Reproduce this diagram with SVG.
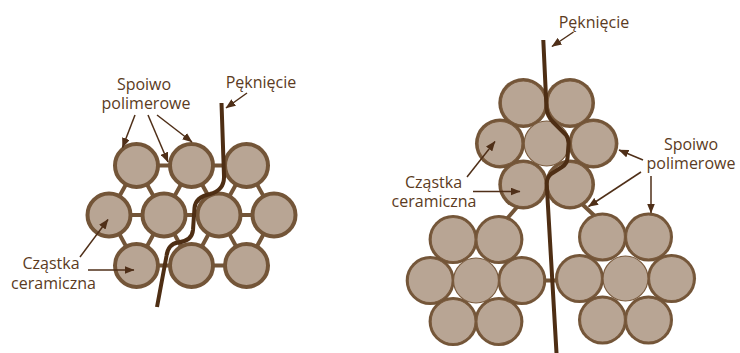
<svg xmlns="http://www.w3.org/2000/svg" width="740" height="353" viewBox="0 0 740 353">
  <defs>
    <marker id="head" markerUnits="userSpaceOnUse" markerWidth="10" markerHeight="8" refX="9.5" refY="4" orient="auto">
      <path d="M0,0 L10,4 L0,8 z" fill="#4f2f18"/>
    </marker>
    <style>
      .lbl { font-family: "Open Sans", "Liberation Sans", sans-serif; font-size: 16px; fill: #5b3b22; text-anchor: middle; }
      .bead { fill: #b8a594; stroke: #735538; stroke-width: 4; }
      .bar { stroke: #735538; stroke-width: 4; fill: none; }
      .ring { fill: #735538; }
      .grain { fill: #b8a594; stroke: #7a5b3e; stroke-width: 1.2; }
      .crack { fill: none; stroke: #4e2e14; stroke-width: 4; stroke-linejoin: round; stroke-linecap: butt; }
      .ptr { stroke: #4f2f18; stroke-width: 1.5; fill: none; marker-end: url(#head); }
    </style>
  </defs>

  <rect width="740" height="353" fill="#ffffff"/>

  <!-- Left: ceramic particles linked by polymer binder bridges -->
  <g id="left-bridges">
    <path class="bar" d="M136.5,165.5 H246.5 M109,215 H274 M136.5,265.5 H246.5
      M136.5,165.5 L109,215 M136.5,165.5 L164,215 M191.5,165.5 L164,215 M191.5,165.5 L219,215 M246.5,165.5 L219,215 M246.5,165.5 L274,215
      M136.5,265.5 L109,215 M136.5,265.5 L164,215 M191.5,265.5 L164,215 M191.5,265.5 L219,215 M246.5,265.5 L219,215 M246.5,265.5 L274,215"/>
  </g>
  <g id="left-particles">
    <circle class="bead" cx="136.5" cy="165.5" r="21.5"/>
    <circle class="bead" cx="191.5" cy="165.5" r="21.5"/>
    <circle class="bead" cx="246.5" cy="165.5" r="21.5"/>
    <circle class="bead" cx="109" cy="215" r="21.5"/>
    <circle class="bead" cx="164" cy="215" r="21.5"/>
    <circle class="bead" cx="219" cy="215" r="21.5"/>
    <circle class="bead" cx="274" cy="215" r="21.5"/>
    <circle class="bead" cx="136.5" cy="265.5" r="21.5"/>
    <circle class="bead" cx="191.5" cy="265.5" r="21.5"/>
    <circle class="bead" cx="246.5" cy="265.5" r="21.5"/>
  </g>
  <g id="left-crack">
    <path class="crack" stroke-width="3.5" d="M221.5,103 L224,176 Q224.5,190 210,194 Q195.5,197 194.5,208 L193,230 Q192,241 178,242.5 Q168,244 166.5,256 L157,307"/>
  </g>

  <!-- Right: sintered clusters joined by thin binder bridges -->
  <g id="right-bridges">
    <path class="bar" d="M518,206 L505,221 M582,204 L598,219 M538,280.5 H562"/>
  </g>
  <g id="cluster-top">
    <circle class="ring" cx="523.3" cy="103" r="25"/>
    <circle class="ring" cx="570" cy="103" r="25"/>
    <circle class="ring" cx="500" cy="143.5" r="25"/>
    <circle class="ring" cx="593.4" cy="143.5" r="25"/>
    <circle class="ring" cx="523.3" cy="184.5" r="25"/>
    <circle class="ring" cx="570" cy="184.5" r="25"/>
    <circle class="grain" cx="523.3" cy="103" r="22"/>
    <circle class="grain" cx="570" cy="103" r="22"/>
    <circle class="grain" cx="500" cy="143.5" r="22"/>
    <circle class="grain" cx="546.7" cy="143.5" r="22.5"/>
    <circle class="grain" cx="593.4" cy="143.5" r="22"/>
    <circle class="grain" cx="523.3" cy="184.5" r="22"/>
    <circle class="grain" cx="570" cy="184.5" r="22"/>
  </g>
  <g id="cluster-lower-left">
    <circle class="ring" cx="453.1" cy="239.5" r="24.5"/>
    <circle class="ring" cx="498.9" cy="239.5" r="24.5"/>
    <circle class="ring" cx="430.2" cy="280.5" r="24.5"/>
    <circle class="ring" cx="521.8" cy="280.5" r="24.5"/>
    <circle class="ring" cx="453.1" cy="321.5" r="24.5"/>
    <circle class="ring" cx="498.9" cy="321.5" r="24.5"/>
    <circle class="grain" cx="453.1" cy="239.5" r="22"/>
    <circle class="grain" cx="498.9" cy="239.5" r="22"/>
    <circle class="grain" cx="430.2" cy="280.5" r="22"/>
    <circle class="grain" cx="476" cy="280.5" r="22.5"/>
    <circle class="grain" cx="521.8" cy="280.5" r="22"/>
    <circle class="grain" cx="453.1" cy="321.5" r="22"/>
    <circle class="grain" cx="498.9" cy="321.5" r="22"/>
  </g>
  <g id="cluster-lower-right">
    <circle class="ring" cx="602.5" cy="237" r="24.5"/>
    <circle class="ring" cx="648.5" cy="237" r="24.5"/>
    <circle class="ring" cx="579.5" cy="278.5" r="24.5"/>
    <circle class="ring" cx="671.5" cy="278.5" r="24.5"/>
    <circle class="ring" cx="602.5" cy="320" r="24.5"/>
    <circle class="ring" cx="648.5" cy="320" r="24.5"/>
    <circle class="grain" cx="602.5" cy="237" r="22"/>
    <circle class="grain" cx="648.5" cy="237" r="22"/>
    <circle class="grain" cx="579.5" cy="278.5" r="22"/>
    <circle class="grain" cx="625.5" cy="278.5" r="22.5"/>
    <circle class="grain" cx="671.5" cy="278.5" r="22"/>
    <circle class="grain" cx="602.5" cy="320" r="22"/>
    <circle class="grain" cx="648.5" cy="320" r="22"/>
  </g>
  <g id="right-crack">
    <path class="crack" d="M543.3,40 L546.5,108 Q547,116 553,122 L566,135 Q569,139 568.5,145 L567.5,158 Q567,164 562,167 L551,174 Q546.5,178 546.7,184 L556.5,353"/>
  </g>

  <!-- Labels -->
  <g id="labels">
    <text class="lbl" x="144" y="90">Spoiwo</text>
    <text class="lbl" x="146" y="108.5">polimerowe</text>
    <text class="lbl" x="261" y="87.5">Pęknięcie</text>
    <text class="lbl" x="51" y="269">Cząstka</text>
    <text class="lbl" x="53.5" y="288.5">ceramiczna</text>
    <text class="lbl" x="594" y="27.5">Pęknięcie</text>
    <text class="lbl" x="433.5" y="188">Cząstka</text>
    <text class="lbl" x="434" y="206.5">ceramiczna</text>
    <text class="lbl" x="691" y="150">Spoiwo</text>
    <text class="lbl" x="691" y="168.5">polimerowe</text>
  </g>

  <!-- Leader arrows -->
  <g id="connectors">
    <line class="ptr" x1="135" y1="115" x2="122.5" y2="147.5"/>
    <line class="ptr" x1="148" y1="115" x2="168" y2="162"/>
    <line class="ptr" x1="157" y1="115" x2="192" y2="142"/>
    <line class="ptr" x1="247" y1="93" x2="226" y2="108"/>
    <line class="ptr" x1="80" y1="257" x2="108" y2="219.5"/>
    <line class="ptr" x1="88" y1="270" x2="134" y2="270"/>
    <line class="ptr" x1="573.5" y1="32" x2="552" y2="46.5"/>
    <line class="ptr" x1="467" y1="177" x2="495" y2="141.5"/>
    <line class="ptr" x1="473" y1="191.5" x2="520" y2="191.5"/>
    <line class="ptr" x1="643" y1="160" x2="619" y2="150"/>
    <line class="ptr" x1="641" y1="172" x2="588.5" y2="206.5"/>
    <line class="ptr" x1="651" y1="176" x2="651" y2="213"/>
  </g>
</svg>
